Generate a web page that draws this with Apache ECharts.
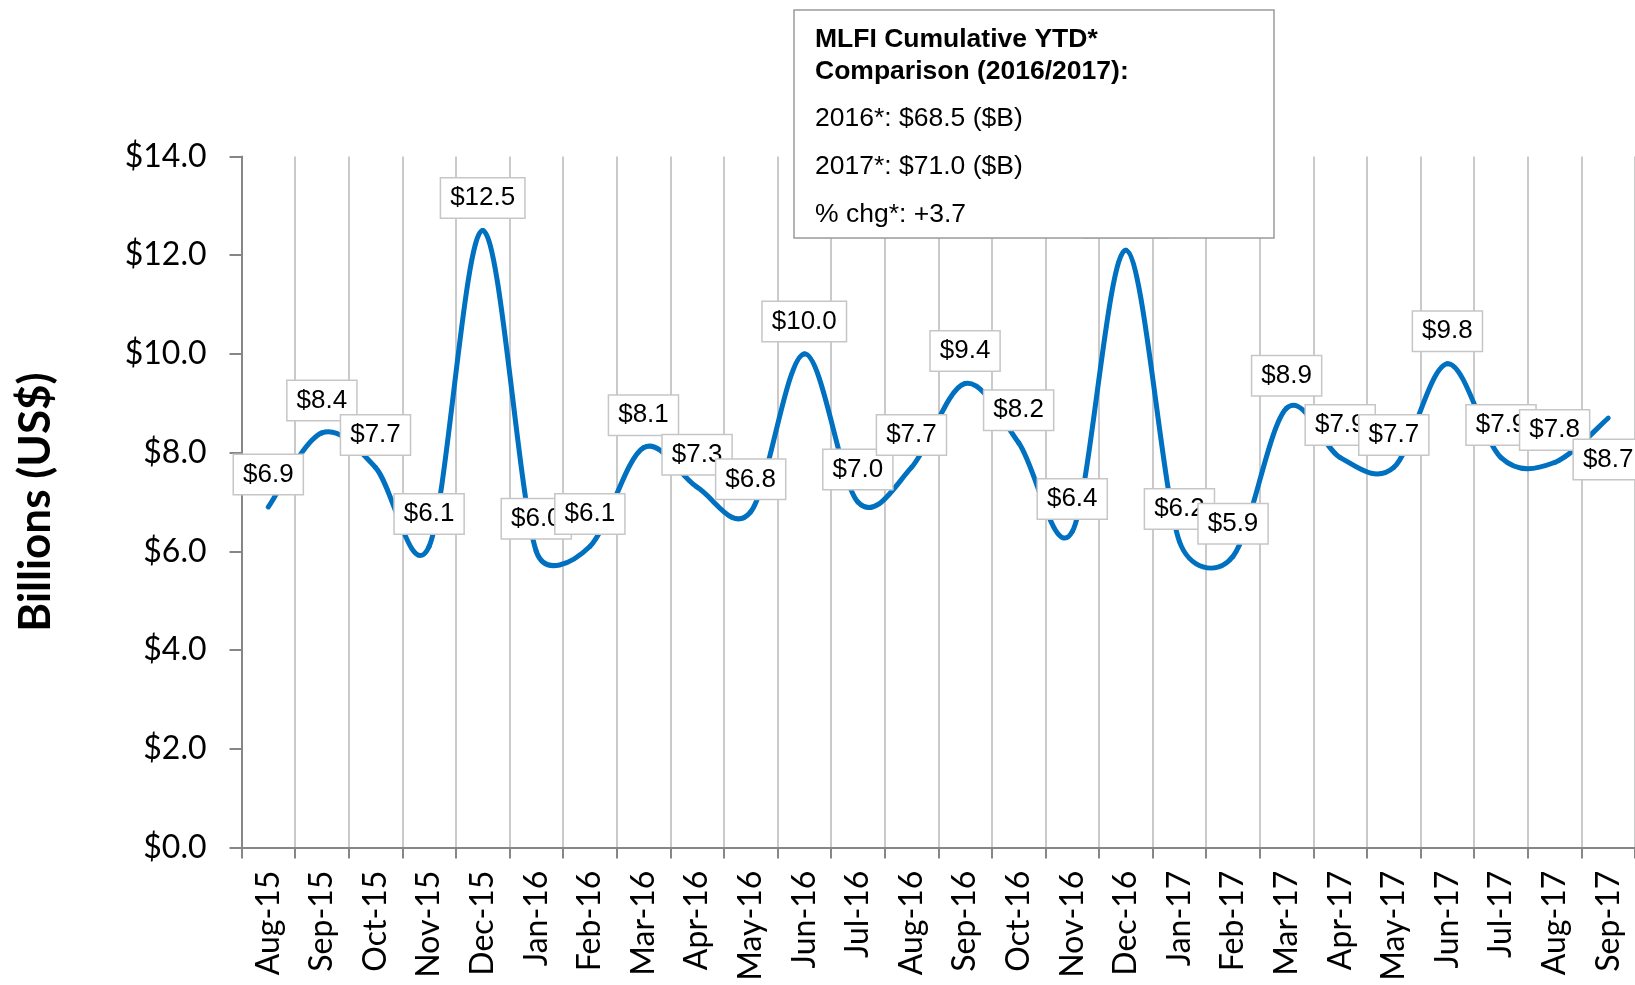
<!DOCTYPE html>
<html>
<head>
<meta charset="utf-8">
<script src="https://cdn.jsdelivr.net/npm/echarts@6/dist/echarts.min.js"></script>
<style>
  html, body { margin: 0; padding: 0; background: #fff; }
  #main { width: 1635px; height: 985px; }
</style>
</head>
<body>
<div id="main"></div>
<script>
// 月份和数值
var months = ['Aug-15', 'Sep-15', 'Oct-15', 'Nov-15', 'Dec-15', 'Jan-16', 'Feb-16', 'Mar-16', 'Apr-16',
    'May-16', 'Jun-16', 'Jul-16', 'Aug-16', 'Sep-16', 'Oct-16', 'Nov-16', 'Dec-16', 'Jan-17', 'Feb-17',
    'Mar-17', 'Apr-17', 'May-17', 'Jun-17', 'Jul-17', 'Aug-17', 'Sep-17'];
var values = [6.9, 8.4, 7.7, 6.1, 12.5, 6.0, 6.1, 8.1, 7.3, 6.8, 10.0, 7.0, 7.7, 9.4, 8.2, 6.4,
    12.1, 6.2, 5.9, 8.9, 7.9, 7.7, 9.8, 7.9, 7.8, 8.7];
var boxTitle = ['MLFI Cumulative YTD*', 'Comparison (2016/2017):'];
var boxLines = ['2016*: $68.5 ($B)', '2017*: $71.0 ($B)', '% chg*: +3.7'];

window.addEventListener('load', function () {
    var myChart = echarts.init(document.getElementById('main'));

    // 最后一个点的标签在下方
    var seriesData = values.map(function (v, i) {
        if (i == values.length - 1) {
            return { value: v, label: { position: 'bottom', distance: 21 } };
        }
        return v;
    });

    function dist(a, b) {
        return Math.sqrt((a[0] - b[0]) * (a[0] - b[0]) + (a[1] - b[1]) * (a[1] - b[1]));
    }

    // Excel 式平滑曲线：每段用相邻点算贝塞尔控制点，控制臂不超过半段长
    function renderCurve(params, api) {
        var i = params.dataIndex;
        var n = values.length;
        if (i >= n - 1) {
            return null;
        }
        var idx = [Math.max(i - 1, 0), i, i + 1, Math.min(i + 2, n - 1)];
        var p = idx.map(function (k) { return api.coord([k, values[k]]); });
        var d12 = dist(p[1], p[2]);
        var d02 = dist(p[0], p[2]);
        var d13 = dist(p[1], p[3]);
        var f1 = (d02 / 6 < d12 / 2) ? 1 / 6 : d12 / (2 * d02);
        var f2 = (d13 / 6 < d12 / 2) ? 1 / 6 : d12 / (2 * d13);
        return {
            type: 'bezierCurve',
            shape: {
                x1: p[1][0], y1: p[1][1],
                cpx1: p[1][0] + (p[2][0] - p[0][0]) * f1,
                cpy1: p[1][1] + (p[2][1] - p[0][1]) * f1,
                cpx2: p[2][0] - (p[3][0] - p[1][0]) * f2,
                cpy2: p[2][1] - (p[3][1] - p[1][1]) * f2,
                x2: p[2][0], y2: p[2][1]
            },
            style: { stroke: '#0070c0', lineWidth: 5, fill: null, lineCap: 'round' }
        };
    }

    var axisGray = '#868686';
    var boxTexts = [];
    var titleTop = [26, 58];
    var lineTop = [105, 153, 201];
    for (let i = 0; i < boxTitle.length; i++) {
        boxTexts.push({
            type: 'text', left: 815, top: titleTop[i], z: 101,
            style: { text: boxTitle[i], font: 'bold 26.5px "Liberation Sans", Arial', fill: '#000' }
        });
    }
    for (let i = 0; i < boxLines.length; i++) {
        boxTexts.push({
            type: 'text', left: 815, top: lineTop[i], z: 101,
            style: { text: boxLines[i], font: '26.5px "Liberation Sans", Arial', fill: '#000' }
        });
    }

    var option = {
        animation: false,
        grid: {
            left: 241.5,
            top: 156.4,
            right: -8,
            bottom: 137.4
        },
        xAxis: {
            type: 'category',
            data: months,
            boundaryGap: true,
            axisLine: { lineStyle: { color: axisGray, width: 2 } },
            axisTick: { show: true, interval: 0, length: 11, lineStyle: { color: axisGray, width: 2 } },
            axisLabel: {
                interval: 0,
                rotate: 90,
                margin: 23,
                fontFamily: 'Lato',
                fontSize: 32,
                color: '#000'
            },
            splitLine: { show: true, interval: 0, lineStyle: { color: '#b8b8b8', width: 1.5 } }
        },
        yAxis: {
            type: 'value',
            min: 0,
            max: 14,
            interval: 2,
            name: 'Billions (US$)',
            nameLocation: 'middle',
            nameGap: 184,
            nameTextStyle: { fontFamily: 'Lato', fontWeight: 'bold', fontSize: 44, color: '#000' },
            axisLine: { show: true, lineStyle: { color: axisGray, width: 2 } },
            axisTick: { show: true, length: 12, lineStyle: { color: axisGray, width: 2 } },
            axisLabel: {
                margin: 35,
                fontFamily: 'Lato',
                fontSize: 32,
                color: '#000',
                formatter: function (v) { return '$' + v.toFixed(1); }
            },
            splitLine: { show: false }
        },
        series: [{
            type: 'custom',
            z: 1,
            data: values.map(function (v, i) { return [i, v]; }),
            encode: { x: 0, y: 1 },
            renderItem: renderCurve,
            silent: true
        }, {
            // 只用来放数据标签
            type: 'line',
            z: 3,
            data: seriesData,
            symbol: 'circle',
            symbolSize: 2,
            showSymbol: true,
            itemStyle: { color: 'rgba(0,0,0,0)' },
            lineStyle: { opacity: 0 },
            label: {
                show: true,
                position: 'top',
                distance: 12,
                formatter: function (p) { return '$' + p.value.toFixed(1); },
                fontFamily: 'Liberation Sans',
                fontSize: 26,
                lineHeight: 27,
                color: '#000',
                backgroundColor: '#fff',
                borderColor: '#c6c6c6',
                borderWidth: 1.5,
                padding: [6, 9, 6, 9]
            },
            emphasis: { disabled: true }
        }],
        graphic: [{
            type: 'rect',
            z: 100,
            shape: { x: 794, y: 10, width: 480, height: 228 },
            style: { fill: '#fff', stroke: '#9a9a9a', lineWidth: 1.5 }
        }].concat(boxTexts)
    };
    myChart.setOption(option);
});
</script>
</body>
</html>
